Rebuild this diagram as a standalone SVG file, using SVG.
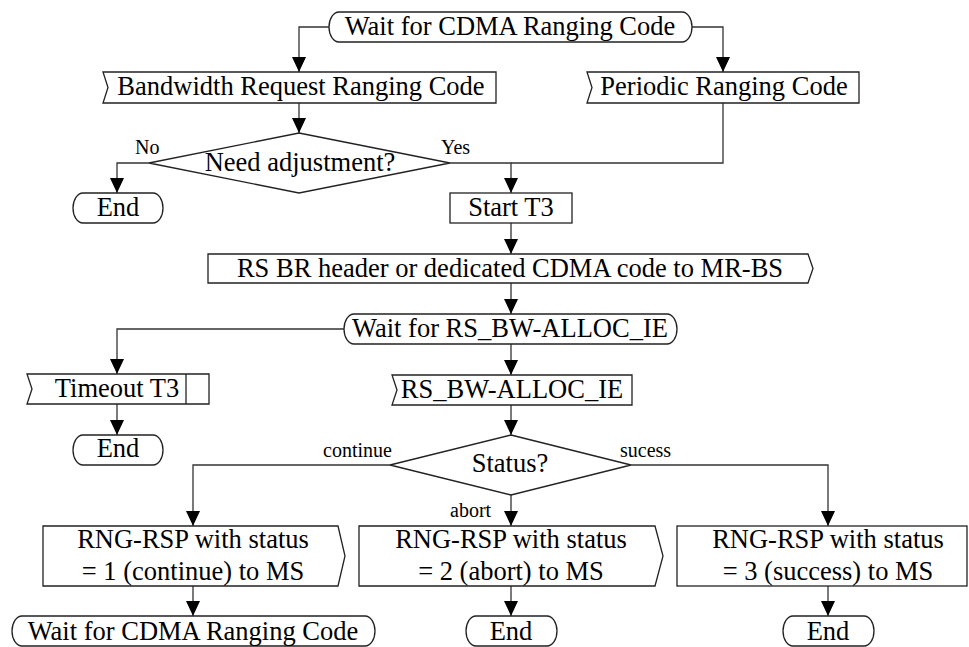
<svg xmlns="http://www.w3.org/2000/svg" width="969" height="647" viewBox="0 0 969 647">
<style>
.s{fill:#fff;stroke:#222;stroke-width:1.3}
.t{font-family:"Liberation Serif","Times New Roman",serif;font-size:26.5px;fill:#000;text-anchor:middle}
.l{font-family:"Liberation Serif","Times New Roman",serif;font-size:20px;fill:#000}
.c{fill:none;stroke:#333;stroke-width:1.3}
</style>
<defs>
<marker id="ah" markerUnits="userSpaceOnUse" markerWidth="15" markerHeight="14" refX="15" refY="7" orient="auto">
<path d="M0,0 L15,7 L0,14 Z" fill="#000"/>
</marker>
</defs>
<rect width="969" height="647" fill="#fff"/>
<g id="connectors">
<path class="c" d="M329,27 H299 V72" marker-end="url(#ah)"/>
<path class="c" d="M692,27 H723 V72" marker-end="url(#ah)"/>
<path class="c" d="M299,103 V133" marker-end="url(#ah)"/>
<path class="c" d="M149,163 H117 V193" marker-end="url(#ah)"/>
<path class="c" d="M723,103 V163 H511"/>
<path class="c" d="M450,163 H511 V193" marker-end="url(#ah)"/>
<path class="c" d="M511,223 V254" marker-end="url(#ah)"/>
<path class="c" d="M511,283 V314" marker-end="url(#ah)"/>
<path class="c" d="M344,329 H117 V374" marker-end="url(#ah)"/>
<path class="c" d="M511,344 V375" marker-end="url(#ah)"/>
<path class="c" d="M117,404 V435" marker-end="url(#ah)"/>
<path class="c" d="M511,405 V435" marker-end="url(#ah)"/>
<path class="c" d="M390,465 H193 V526" marker-end="url(#ah)"/>
<path class="c" d="M631,465 H828 V526" marker-end="url(#ah)"/>
<path class="c" d="M511,495 V526" marker-end="url(#ah)"/>
<path class="c" d="M193,586 V616" marker-end="url(#ah)"/>
<path class="c" d="M511,586 V616" marker-end="url(#ah)"/>
<path class="c" d="M828,586 V616" marker-end="url(#ah)"/>
<text class="l" x="135" y="154">No</text>
<text class="l" x="441" y="154">Yes</text>
<text class="l" x="323" y="457">continue</text>
<text class="l" x="620" y="457">sucess</text>
<text class="l" x="450" y="517">abort</text>
</g>
<g id="start">
<path class="s" d="M339,12 H682 A10,15 0 0 1 682,42 H339 A10,15 0 0 1 339,12 Z"/>
<text class="t" x="510" y="35">Wait for CDMA Ranging Code</text>
</g>
<g id="bwreq">
<path class="s" d="M103,72 H496 V103 H103 L108,87.5 Z"/>
<text class="t" x="301" y="95">Bandwidth Request Ranging Code</text>
</g>
<g id="periodic">
<path class="s" d="M587,72 H859 V103 H587 L592,87.5 Z"/>
<text class="t" x="724" y="95">Periodic Ranging Code</text>
</g>
<g id="adjust">
<path class="s" d="M299,133 L450,163 L299,193 L149,163 Z"/>
<text class="t" x="300" y="171">Need adjustment?</text>
</g>
<g id="end1">
<path class="s" d="M83,193 H153 A10,15 0 0 1 153,223 H83 A10,15 0 0 1 83,193 Z"/>
<text class="t" x="118" y="216">End</text>
</g>
<g id="startT3">
<rect class="s" x="450" y="193" width="122" height="30"/>
<text class="t" x="511" y="216">Start T3</text>
</g>
<g id="rsbr">
<path class="s" d="M208,254 H808 L813,268.5 L808,283 H208 Z"/>
<text class="t" x="510" y="277">RS BR header or dedicated CDMA code to MR-BS</text>
</g>
<g id="waitbw">
<path class="s" d="M354,314 H667 A10,15 0 0 1 667,344 H354 A10,15 0 0 1 354,314 Z"/>
<text class="t" x="510" y="337">Wait for RS_BW-ALLOC_IE</text>
</g>
<g id="timeout">
<path class="s" d="M27,374 H209 V404 H27 L32,389 Z"/>
<line class="s" x1="186" y1="374" x2="186" y2="404"/>
<text class="t" x="117" y="397">Timeout T3</text>
</g>
<g id="bwalloc">
<path class="s" d="M392,375 H632 V405 H392 L397,390 Z"/>
<text class="t" x="512" y="398">RS_BW-ALLOC_IE</text>
</g>
<g id="end2">
<path class="s" d="M83,435 H153 A10,15 0 0 1 153,465 H83 A10,15 0 0 1 83,435 Z"/>
<text class="t" x="118" y="457">End</text>
</g>
<g id="status">
<path class="s" d="M511,435 L631,465 L511,495 L390,465 Z"/>
<text class="t" x="510" y="472">Status?</text>
</g>
<g id="rsp1">
<path class="s" d="M43,526 H338 L345,556 L338,586 H43 Z"/>
<text class="t" x="193" y="548">RNG-RSP with status</text>
<text class="t" x="193" y="580">= 1 (continue) to MS</text>
</g>
<g id="rsp2">
<path class="s" d="M359,526 H655 L663,556 L655,586 H359 Z"/>
<text class="t" x="511" y="548">RNG-RSP with status</text>
<text class="t" x="511" y="580">= 2 (abort) to MS</text>
</g>
<g id="rsp3">
<rect class="s" x="677" y="526" width="290" height="60"/>
<text class="t" x="828" y="548">RNG-RSP with status</text>
<text class="t" x="828" y="580">= 3 (success) to MS</text>
</g>
<g id="waitcdma2">
<path class="s" d="M22,616 H365 A10,15 0 0 1 365,646 H22 A10,15 0 0 1 22,616 Z"/>
<text class="t" x="193" y="640">Wait for CDMA Ranging Code</text>
</g>
<g id="end3">
<path class="s" d="M476,616 H547 A10,15 0 0 1 547,646 H476 A10,15 0 0 1 476,616 Z"/>
<text class="t" x="511" y="640">End</text>
</g>
<g id="end4">
<path class="s" d="M793,616 H864 A10,15 0 0 1 864,646 H793 A10,15 0 0 1 793,616 Z"/>
<text class="t" x="828" y="640">End</text>
</g>
</svg>
